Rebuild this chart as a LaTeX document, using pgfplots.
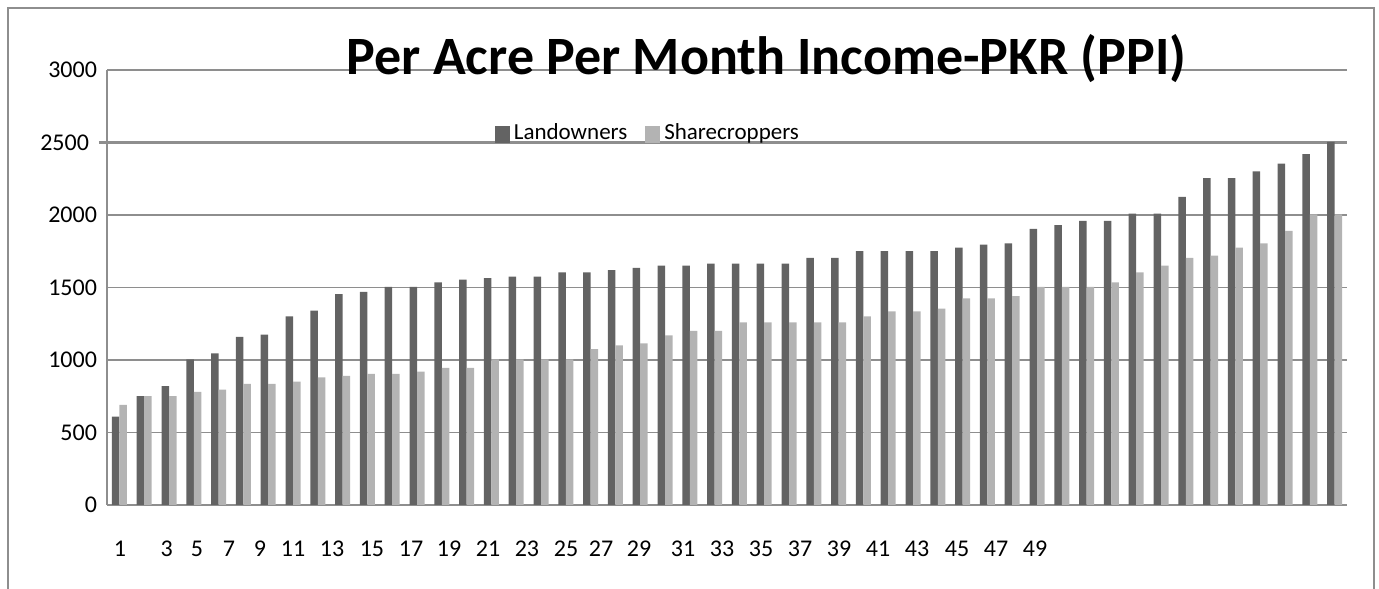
\documentclass[border=0pt]{standalone}
\usepackage{pgfplots}
\pgfplotsset{compat=1.18}
\usepackage{pgfplotstable}
\usepackage{fontspec}
\setmainfont{Carlito}
\definecolor{landc}{HTML}{636363}
\definecolor{sharec}{HTML}{B3B3B3}
\definecolor{gridc}{HTML}{8E8E8E}

\pgfplotstableread{
x L S
1 610 690
2 750 750
3 820 750
4 1005 780
5 1045 795
6 1160 835
7 1175 835
8 1300 850
9 1340 880
10 1455 890
11 1470 905
12 1505 905
13 1505 920
14 1535 945
15 1555 945
16 1565 1005
17 1575 1005
18 1575 1005
19 1605 1005
20 1605 1075
21 1620 1100
22 1635 1115
23 1650 1170
24 1650 1200
25 1665 1200
26 1665 1260
27 1665 1260
28 1665 1260
29 1705 1260
30 1705 1260
31 1750 1300
32 1750 1335
33 1750 1335
34 1750 1355
35 1775 1425
36 1795 1425
37 1805 1440
38 1905 1505
39 1930 1505
40 1960 1505
41 1960 1535
42 2010 1605
43 2010 1650
44 2125 1705
45 2255 1720
46 2255 1775
47 2300 1805
48 2355 1890
49 2420 2005
50 2505 2005
}\datatable

\begin{document}
\begin{tikzpicture}
\useasboundingbox (-53.5pt,-41.5pt) rectangle (636pt,252.5pt);
\draw[gridc, line width=0.8pt] (-49.5pt,-44pt) -- (-49.5pt,248.5pt) -- (633.5pt,248.5pt) -- (633.5pt,-44pt);
\begin{axis}[
  at={(0,0)}, anchor=south west,
  scale only axis, width=620pt, height=217.5pt,
  xmin=0.5, xmax=50.5, ymin=0, ymax=3000,
  clip=false,
  ybar=0pt, bar width=3.75pt,
  axis lines*=left,
  axis line style={gridc, line width=0.7pt},
  ytick={0,500,1000,1500,2000,3000},
  extra y ticks={2500},
  extra y tick style={grid style={gridc, line width=1.4pt}, tick style={gridc, line width=1.4pt}, major tick length=4pt, tick align=outside},
  ymajorgrids, grid style={gridc, line width=0.65pt},
  major tick length=0pt,
  /pgf/number format/.cd, 1000 sep={}, assume math mode=true, /pgfplots/.cd,
  xtick={1.024,2.907,4.129,5.419,6.669,8.0,9.573,11.185,12.758,14.29,15.863,17.435,19.008,20.42,21.952,23.726,25.298,26.871,28.444,30.016,31.589,33.161,34.774,36.347,37.919},
  xticklabels={1,3,5,7,9,11,13,15,17,19,21,23,25,27,29,31,33,35,37,39,41,43,45,47,49},
  xtick style={draw=none},
  ticklabel style={font=\fontsize{12}{14}\selectfont},
  xticklabel style={yshift=-14.5pt},
  yticklabel style={xshift=-1.5pt},
  legend style={at={(rel axis cs:0.437,0.814)}, anchor=south, draw=none, fill=none,
    legend columns=2, font=\fontsize{11.5}{13}\selectfont,
    /tikz/every even column/.append style={column sep=7pt}},
  legend image code/.code={\fill[#1] (0pt,-5pt) rectangle (7.5pt,3.5pt);},
]
\addplot[fill=landc, draw=none] table[x=x, y=L] {\datatable};
\addplot[fill=sharec, draw=none] table[x=x, y=S] {\datatable};
\legend{Landowners, Sharecroppers}
\node[anchor=base, font=\bfseries\fontsize{27}{32}\selectfont] at (rel axis cs:0.532,0.99) {Per Acre Per Month Income-PKR (PPI)};
\end{axis}
\end{tikzpicture}
\end{document}
